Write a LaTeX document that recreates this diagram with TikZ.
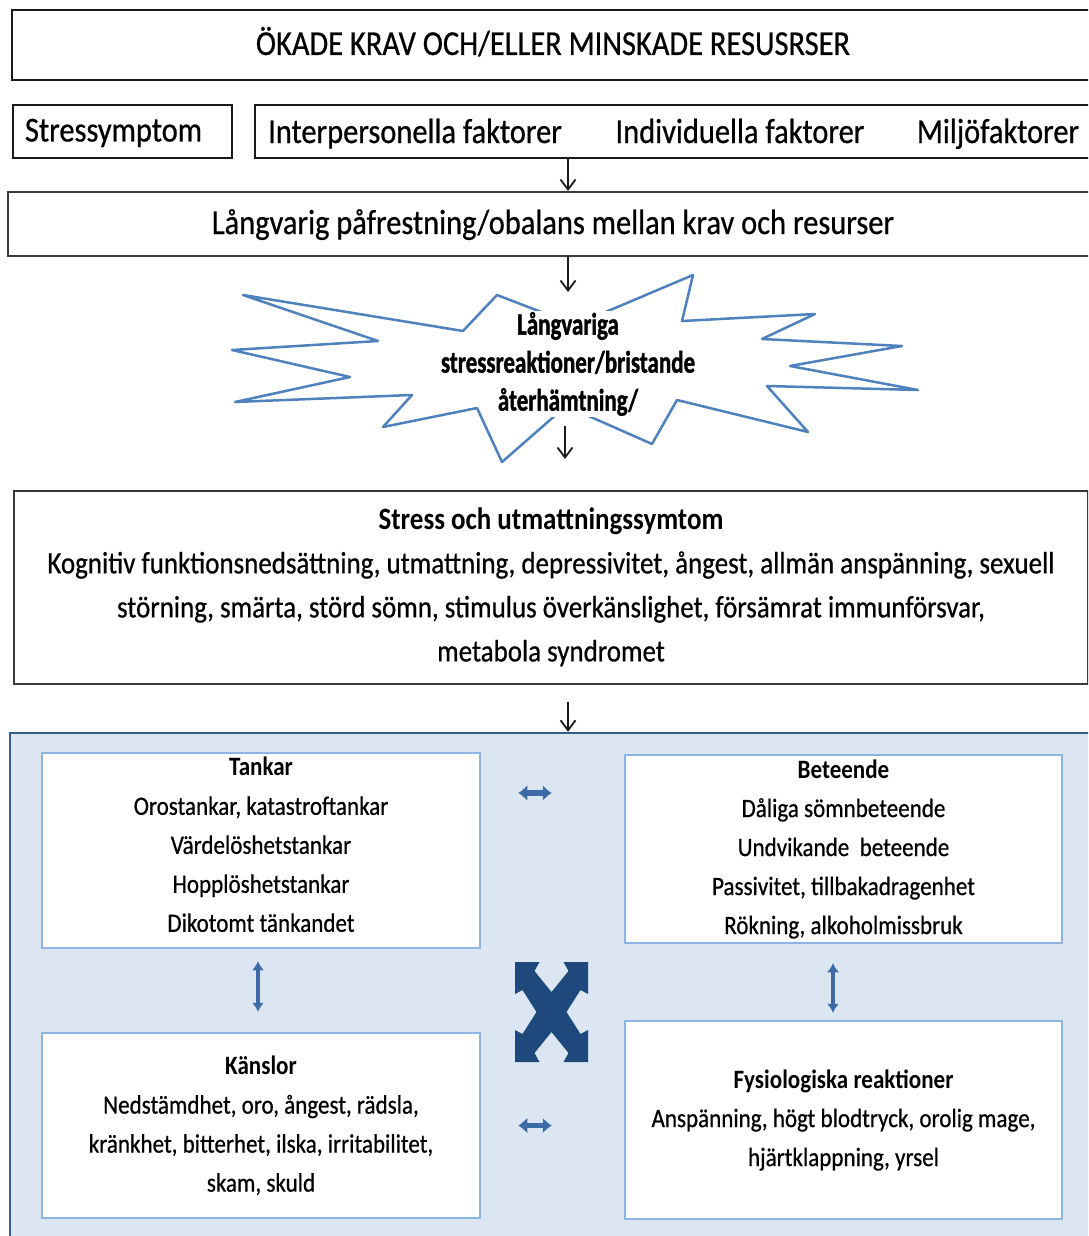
\documentclass[tikz,border=0pt]{standalone}
\usepackage{fontspec}
\setmainfont{Carlito}[FakeStretch=0.87, UprightFeatures={FakeBold=0.6}]
\newfontfamily\burstfont{Carlito}[FakeStretch=0.74, BoldFeatures={FakeBold=1.2}]
\usepackage{xcolor}
\usetikzlibrary{arrows.meta,positioning}
\definecolor{ink}       {HTML}{1A1A1A}
\definecolor{edgegray}  {HTML}{3A3A3A}
\definecolor{starblue}  {HTML}{4F81BD}
\definecolor{panelfill} {HTML}{DCE6F2}
\definecolor{paneledge} {HTML}{385D8A}
\definecolor{cardedge}  {HTML}{8EB4E3}
\definecolor{arrowblue} {HTML}{3D6BA6}
\definecolor{crossblue} {HTML}{1F497D}
\newcommand{\burstline}[1]{{\setlength{\fboxsep}{1pt}\colorbox{white}{#1}}}
\tikzset{
  headbox/.style   ={draw=ink, fill=white, line width=2.5pt, inner sep=0pt,
                     text height=26pt, text depth=6pt,
                     font=\fontsize{35}{42}\selectfont},
  headlabel/.style ={inner sep=0pt, text height=26pt, text depth=6pt,
                     font=\fontsize{35}{42}\selectfont},
  langbox/.style   ={draw=edgegray, fill=white, line width=2pt, inner sep=0pt,
                     text height=26pt, text depth=6pt,
                     font=\fontsize{35}{42}\selectfont},
  stressbox/.style ={draw=edgegray, fill=white, line width=2pt, inner sep=0pt,
                     align=center, font=\fontsize{31}{44}\selectfont},
  panelbox/.style  ={draw=paneledge, fill=panelfill, line width=2.5pt, inner sep=0pt},
  cardbox/.style   ={draw=cardedge, fill=white, line width=2.5pt, inner sep=0pt,
                     align=center, font=\fontsize{26.5}{39}\selectfont},
  burstlabel/.style={inner sep=0pt, align=center,
                     font=\burstfont\bfseries\fontsize{31}{38}\selectfont},
  starline/.style  ={draw=starblue, fill=white, line width=2.5pt, line join=round},
  flowarr/.style   ={-{Straight Barb[length=10pt,width=15pt]}, line width=1.8pt, draw=ink},
  hduo/.style      ={{Latex[length=9pt,width=16pt]}-{Latex[length=9pt,width=16pt]},
                     line width=5.5pt, draw=arrowblue},
  vduo/.style      ={{Latex[length=9pt,width=12pt]}-{Latex[length=9pt,width=12pt]},
                     line width=3.5pt, draw=arrowblue},
}
\begin{document}
\begin{tikzpicture}[x=1pt,y=-1pt]
  \useasboundingbox (0,0) rectangle (1088,1236);
  \clip (0,0) rectangle (1088,1236);
  \coordinate (spine) at (568,0);

  % top rows
  \node[headbox, minimum width=1082, minimum height=70] (demands) at (553,45) {ÖKADE KRAV OCH/ELLER MINSKADE RESUSRSER};
  \node[headbox, minimum width=219, minimum height=53, text width=195, inner xsep=12pt, align=left] (symptom) at (122.5,131.5) {Stressymptom};
  \node[headbox, minimum width=845, minimum height=53] (factors) at (677.5,131.5) {};
  \node[headlabel] (interp) at (415,133) {Interpersonella faktorer};
  \node[headlabel] (indiv)  at (740,133) {Individuella faktorer};
  \node[headlabel] (miljo)  at (998,133) {Miljöfaktorer};
  \node[langbox, minimum width=1090, minimum height=64] (lang) at (553,224) {Långvarig påfrestning/obalans mellan krav och resurser};

  % burst
  \draw[starline] (243,295) -- (463,331) -- (497,295) -- (575,325) -- (693,275) -- (682,321)
    -- (815,314) -- (762,339) -- (902,346) -- (790,366) -- (918,390) -- (767,386)
    -- (808,432) -- (677,400) -- (652,444) -- (566,406) -- (502,462) -- (477,408)
    -- (383,427) -- (412,395) -- (235,402) -- (350,377) -- (232,350) -- (378,341) -- cycle;
  \node[burstlabel] (burst) at (568,364) {\burstline{Långvariga}\\\burstline{stressreaktioner/bristande}\\\burstline{återhämtning/}};
  \coordinate (burstin)  at (568,292);
  \coordinate (burstlow) at (565,426);
  \coordinate (burstend) at (565,459);

  \node[stressbox, minimum width=1074, minimum height=193] (stress) at (551,587) {\textbf{Stress och utmattningssymtom}\\Kognitiv funktionsnedsättning, utmattning, depressivitet, ångest, allmän anspänning, sexuell\\störning, smärta, störd sömn, stimulus överkänslighet, försämrat immunförsvar,\\metabola syndromet};

  \draw[flowarr] (factors.south -| spine) -- (lang.north -| spine);
  \draw[flowarr] (lang.south -| spine) -- (burstin);
  \draw[flowarr] (burstlow) -- (burstend);

  % lower panel
  \node[panelbox, minimum width=1090, minimum height=517] (panel) at (555,991.5) {};
  \draw[flowarr, shorten <=17pt] (stress.south -| spine) -- (panel.north -| spine);

  \node[cardbox, minimum width=438, minimum height=195] (tankar) at (261,850.5) {\textbf{Tankar}\\Orostankar, katastroftankar\\Värdelöshetstankar\\Hopplöshetstankar\\Dikotomt tänkandet\rule[-12pt]{0pt}{0pt}};
  \node[cardbox, minimum width=437, minimum height=188] (beteende) at (843.5,849) {\textbf{Beteende}\\Dåliga sömnbeteende\\Undvikande~~beteende\\Passivitet, tillbakadragenhet\\Rökning, alkoholmissbruk};
  \node[cardbox, minimum width=438, minimum height=185] (kanslor) at (261,1125.5) {\textbf{Känslor}\\Nedstämdhet, oro, ångest, rädsla,\\kränkhet, bitterhet, ilska, irritabilitet,\\skam, skuld};
  \node[cardbox, minimum width=437, minimum height=198] (fysio) at (843.5,1120) {\textbf{Fysiologiska reaktioner}\\Anspänning, högt blodtryck, orolig mage,\\hjärtklappning, yrsel};

  \draw[hduo, shorten <=37pt, shorten >=72pt] ([yshift=57.5pt]tankar.east) -- ([yshift=57.5pt]tankar.east -| beteende.west);
  \draw[hduo, shorten <=37pt, shorten >=72pt] (kanslor.east) -- (kanslor.east -| fysio.west);
  \draw[vduo, shorten <=12pt, shorten >=20pt] ([xshift=-3pt]tankar.south) -- ([xshift=-3pt]kanslor.north);
  \draw[vduo, shorten <=19pt, shorten >=7pt] ([xshift=-10.5pt]beteende.south) -- ([xshift=-10.5pt]fysio.north);

  % crossing arrows
  \fill[crossblue, shift={(551.5,1012)}] (-36.5,-50) -- (-12,-50) -- (-17,-41) -- (0,-20) -- (17,-41) -- (12,-50)
    -- (36.5,-50) -- (36.5,-18) -- (29,-22) -- (15,0) -- (29,22) -- (36.5,18)
    -- (36.5,50) -- (12,50) -- (17,41) -- (0,20) -- (-17,41) -- (-12,50)
    -- (-36.5,50) -- (-36.5,18) -- (-29,22) -- (-15,0) -- (-29,-22) -- (-36.5,-18) -- cycle;
\end{tikzpicture}
\end{document}
